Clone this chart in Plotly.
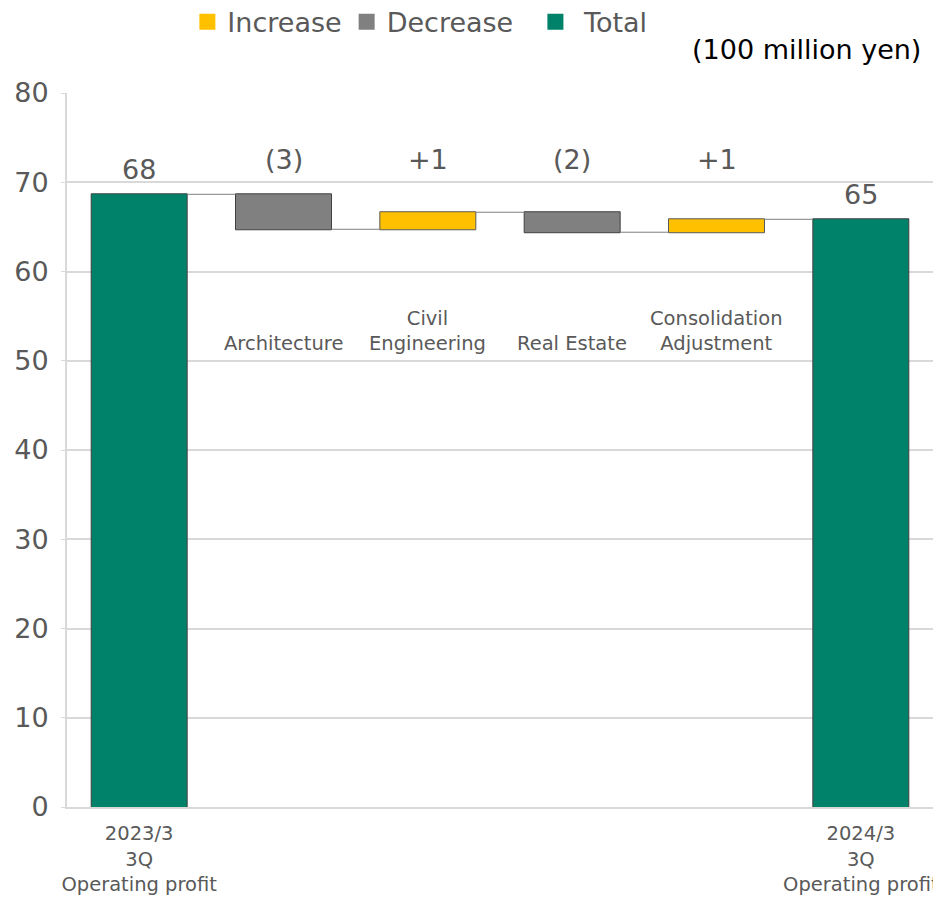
import plotly.graph_objects as go

# ---- data ----
categories = ["2023/3<br>3Q<br>Operating profit", "Architecture", "Civil<br>Engineering",
              "Real Estate", "Consolidation<br>Adjustment", "2024/3<br>3Q<br>Operating profit"]
measures = ["absolute", "relative", "relative", "relative", "relative", "total"]
values = [68.65, -3.92, 1.91, -2.24, 1.45, 0]
value_labels = ["68", "(3)", "+1", "(2)", "+1", "65"]
legend_names = ["Increase", "Decrease\u00a0\u00a0", "\u00a0Total"]

C_INC = "#FFC000"
C_DEC = "#808080"
C_TOT = "#00826A"
TXT = "#595959"
GRID = "#D9D9D9"
CAT_FONT = dict(family="DejaVu Sans", size=19.5, color=TXT)

x_idx = list(range(len(categories)))

fig = go.Figure()
fig.add_trace(go.Waterfall(
    x=x_idx, y=values, measure=measures, width=0.665,
    increasing=dict(marker=dict(color=C_INC, line=dict(color="#595959", width=1))),
    decreasing=dict(marker=dict(color=C_DEC, line=dict(color="#404040", width=1))),
    totals=dict(marker=dict(color=C_TOT, line=dict(color="#404040", width=1))),
    connector=dict(line=dict(color="#7F7F7F", width=1)),
    textinfo="none", showlegend=False, hoverinfo="skip",
))

# legend entries
for name, col in zip(legend_names, [C_INC, C_DEC, C_TOT]):
    fig.add_trace(go.Scatter(x=[None], y=[None], mode="markers", name=name,
                             marker=dict(symbol="square", size=20, color=col)))

# running levels for label placement
levels = []
lvl = 0
for m, v in zip(measures, values):
    if m == "absolute":
        lvl = v
    elif m == "relative":
        lvl += v
    levels.append(lvl)

annotations = []
for i, (m, lab) in enumerate(zip(measures, value_labels)):
    if m in ("absolute", "total"):
        annotations.append(dict(x=i, y=levels[i], text=lab, showarrow=False,
                                yanchor="bottom", yshift=7,
                                font=dict(family="DejaVu Sans", size=27, color=TXT)))
    else:
        annotations.append(dict(x=i, y=72.5, text=lab, showarrow=False,
                                yanchor="middle",
                                font=dict(family="DejaVu Sans", size=27, color=TXT)))
# middle category labels inside the plot
for i, m in enumerate(measures):
    if m == "relative":
        annotations.append(dict(x=i, y=50.4, text=categories[i], showarrow=False,
                                yanchor="bottom", font=CAT_FONT))
annotations.append(dict(x=1, xref="paper", xanchor="right", xshift=-10, y=1.0, yref="paper",
                        yanchor="bottom", yshift=26, text="(100 million yen)", showarrow=False,
                        font=dict(family="DejaVu Sans", size=27, color="#000000")))

fig.update_layout(
    width=933, height=889,
    margin=dict(l=59, r=8, t=85, b=90, autoexpand=False),
    paper_bgcolor="white", plot_bgcolor="white",
    font=dict(family="DejaVu Sans", color=TXT),
    showlegend=True,
    legend=dict(orientation="h", x=0.139, xanchor="left", y=1.099, yanchor="middle",
                font=dict(family="DejaVu Sans", size=27, color=TXT),
                itemsizing="trace", bgcolor="rgba(0,0,0,0)"),
    annotations=annotations,
)
fig.update_xaxes(range=[-0.5, 5.5], tickvals=[0, 5], ticktext=[categories[0], categories[5]],
                 showgrid=False, zeroline=False, showline=True, linecolor=GRID, linewidth=2,
                 ticks="", ticklabelstandoff=8, ticklabeloverflow="allow", automargin=False,
                 tickfont=CAT_FONT)
fig.update_yaxes(range=[0, 80], dtick=10, showgrid=True, gridcolor=GRID, gridwidth=2,
                 zeroline=False, showline=True, linecolor=GRID, linewidth=2,
                 ticks="outside", ticklen=4, tickcolor=GRID, ticklabelstandoff=7,
                 automargin=False,
                 tickfont=dict(family="DejaVu Sans", size=27, color=TXT))

fig.write_html("out.html")
